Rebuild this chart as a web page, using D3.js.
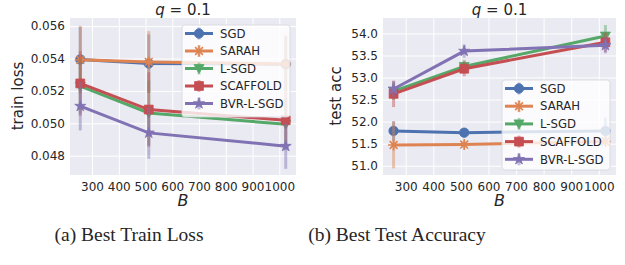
<!DOCTYPE html>
<html>
<head>
<script src="https://d3js.org/d3.v7.min.js"></script>
<style>
body { margin: 0; background: #fff; }
text { font-family: "DejaVu Sans", sans-serif; fill: #262626; }
</style>
</head>
<body>
<svg id="fig" width="625" height="265"></svg>
<script>
// batch sizes and methods
const batchSizes = [256, 512, 1024];
const methods = ["SGD", "SARAH", "L-SGD", "SCAFFOLD", "BVR-L-SGD"];
const colors = ["#4c72b0", "#dd8452", "#55a868", "#c44e52", "#8172b3"];
const markers = ["circle", "asterisk", "triangle", "square", "star"];

// best train loss (mean, std)
const lossSGD      = [0.05394, 0.05369, 0.05365];
const lossSARAH    = [0.05392, 0.05379, 0.05366];
const lossLSGD     = [0.05229, 0.05064, 0.04994];
const lossSCAFFOLD = [0.05246, 0.05085, 0.05019];
const lossBVR      = [0.05106, 0.04941, 0.04859];
const lossErrSGD      = [0.0020, 0.0018, 0.0017];
const lossErrSARAH    = [0.0021, 0.0019, 0.0018];
const lossErrLSGD     = [0.0017, 0.0020, 0.0016];
const lossErrSCAFFOLD = [0.0020, 0.0023, 0.0017];
const lossErrBVR      = [0.0015, 0.0016, 0.0014];

// best test accuracy (mean, std)
const accSGD      = [51.79, 51.75, 51.79];
const accSARAH    = [51.47, 51.48, 51.55];
const accLSGD     = [52.69, 53.25, 53.94];
const accSCAFFOLD = [52.63, 53.20, 53.80];
const accBVR      = [52.74, 53.60, 53.73];
const accErrSGD      = [0.22, 0.10, 0.30];
const accErrSARAH    = [0.53, 0.08, 0.10];
const accErrLSGD     = [0.20, 0.15, 0.25];
const accErrSCAFFOLD = [0.30, 0.17, 0.22];
const accErrBVR      = [0.18, 0.15, 0.18];

const lossTicks = [0.048, 0.050, 0.052, 0.054, 0.056];
const accTicks = [51.0, 51.5, 52.0, 52.5, 53.0, 53.5, 54.0];
const xTicks = [300, 400, 500, 600, 700, 800, 900, 1000];

const svg = d3.select("#fig");

function markerPath(kind) {
  if (kind == "circle") return d3.symbol(d3.symbolCircle, 70)();
  if (kind == "square") return d3.symbol(d3.symbolSquare, 78)();
  if (kind == "triangle") return "M-5,-4L5,-4L0,5Z";
  if (kind == "star") return d3.symbol(d3.symbolStar, 38)();
  // asterisk: 8 spokes
  let p = "";
  for (let i = 0; i < 4; i++) {
    const a = i * Math.PI / 4;
    const dx = 5.5 * Math.cos(a), dy = 5.5 * Math.sin(a);
    p += "M" + (-dx) + "," + (-dy) + "L" + dx + "," + dy;
  }
  return p;
}

function drawMarker(g, kind, color, x, y) {
  const m = g.append("path")
    .attr("d", markerPath(kind))
    .attr("transform", "translate(" + x + "," + y + ")");
  if (kind == "asterisk") m.attr("fill", "none").attr("stroke", color).attr("stroke-width", 1.6);
  else m.attr("fill", color).attr("stroke", color).attr("stroke-width", 0.8);
}

function panel(opt) {
  const x = d3.scaleLinear().domain([217.6, 1062.4]).range([opt.x0, opt.x1]);
  const y = d3.scaleLinear().domain(opt.ydom).range([175, 18]);
  const g = svg.append("g");

  g.append("rect").attr("x", opt.x0).attr("y", 18)
    .attr("width", opt.x1 - opt.x0).attr("height", 157).attr("fill", "#eaeaf2");

  const xa = g.append("g").attr("transform", "translate(0,175)")
    .call(d3.axisBottom(x).tickValues(xTicks).tickSize(-157).tickPadding(7).tickFormat(d3.format("d")));
  const ya = g.append("g").attr("transform", "translate(" + opt.x0 + ",0)")
    .call(d3.axisLeft(y).tickValues(opt.yticks).tickSize(-(opt.x1 - opt.x0)).tickPadding(5).tickFormat(d3.format(opt.fmt)));
  [xa, ya].forEach(a => {
    a.select(".domain").remove();
    a.selectAll("line").attr("stroke", "#fff").attr("stroke-width", 1);
    a.selectAll("text").style("font-family", "DejaVu Sans").style("font-size", "12px").attr("fill", "#262626");
  });

  opt.series.forEach((s, i) => {
    const pts = batchSizes.map((b, j) => ({b: b, v: s.v[j], e: s.e[j]}));
    g.selectAll(null).data(pts).join("line")
      .attr("x1", d => x(d.b)).attr("x2", d => x(d.b))
      .attr("y1", d => y(d.v - d.e)).attr("y2", d => y(d.v + d.e))
      .attr("stroke", colors[i]).attr("stroke-width", 3).attr("stroke-opacity", 0.45);
    g.append("path").datum(pts)
      .attr("d", d3.line().x(d => x(d.b)).y(d => y(d.v)))
      .attr("fill", "none").attr("stroke", colors[i]).attr("stroke-width", 3);
    pts.forEach(d => drawMarker(g, markers[i], colors[i], x(d.b), y(d.v)));
  });

  // legend
  const lg = g.append("g");
  lg.append("rect").attr("x", opt.lx).attr("y", opt.ly)
    .attr("width", 108).attr("height", opt.lh).attr("rx", 3)
    .attr("fill", "#fff").attr("fill-opacity", 0.8).attr("stroke", "#d6d6dc").attr("stroke-width", 0.8);
  methods.forEach((m, i) => {
    const yy = opt.ly + 8.5 + i * opt.ls;
    lg.append("line").attr("x1", opt.lx + 17).attr("x2", opt.lx + 17)
      .attr("y1", yy - 6).attr("y2", yy + 6)
      .attr("stroke", colors[i]).attr("stroke-width", 3).attr("stroke-opacity", 0.45);
    lg.append("line").attr("x1", opt.lx + 3).attr("x2", opt.lx + 31)
      .attr("y1", yy).attr("y2", yy).attr("stroke", colors[i]).attr("stroke-width", 3);
    drawMarker(lg, markers[i], colors[i], opt.lx + 17, yy);
    lg.append("text").attr("x", opt.lx + 38).attr("y", yy + 4.2)
      .style("font-size", "11.7px").text(m);
  });

  g.append("text").attr("x", (opt.x0 + opt.x1) / 2).attr("y", 15)
    .attr("text-anchor", "middle").style("font-size", "15px")
    .html('<tspan font-style="italic">q</tspan> = 0.1');
  g.append("text").attr("x", (opt.x0 + opt.x1) / 2).attr("y", 206)
    .attr("text-anchor", "middle").style("font-size", "16px").style("font-style", "italic").text("B");
  g.append("text").attr("transform", "translate(" + opt.ylx + ",96) rotate(-90)")
    .attr("text-anchor", "middle").style("font-size", "15px").text(opt.ylabel);
  g.append("text").attr("x", opt.cx).attr("y", 241)
    .attr("text-anchor", "middle")
    .style("font-family", "Liberation Serif, serif").style("font-size", "19.5px").attr("fill", "#000")
    .text(opt.caption);
}

panel({
  x0: 70, x1: 296, ydom: [0.04681, 0.05650], yticks: lossTicks, fmt: ".3f",
  series: [
    {v: lossSGD, e: lossErrSGD}, {v: lossSARAH, e: lossErrSARAH}, {v: lossLSGD, e: lossErrLSGD},
    {v: lossSCAFFOLD, e: lossErrSCAFFOLD}, {v: lossBVR, e: lossErrBVR}
  ],
  lx: 182, ly: 25, lh: 92, ls: 17.5, ylx: 23, ylabel: "train loss",
  cx: 129, caption: "(a) Best Train Loss"
});

panel({
  x0: 383, x1: 616, ydom: [50.79, 54.35], yticks: accTicks, fmt: ".1f",
  series: [
    {v: accSGD, e: accErrSGD}, {v: accSARAH, e: accErrSARAH}, {v: accLSGD, e: accErrLSGD},
    {v: accSCAFFOLD, e: accErrSCAFFOLD}, {v: accBVR, e: accErrBVR}
  ],
  lx: 502, ly: 80, lh: 90, ls: 17.7, ylx: 341, ylabel: "test acc",
  cx: 397, caption: "(b) Best Test Accuracy"
});
</script>
</body>
</html>
